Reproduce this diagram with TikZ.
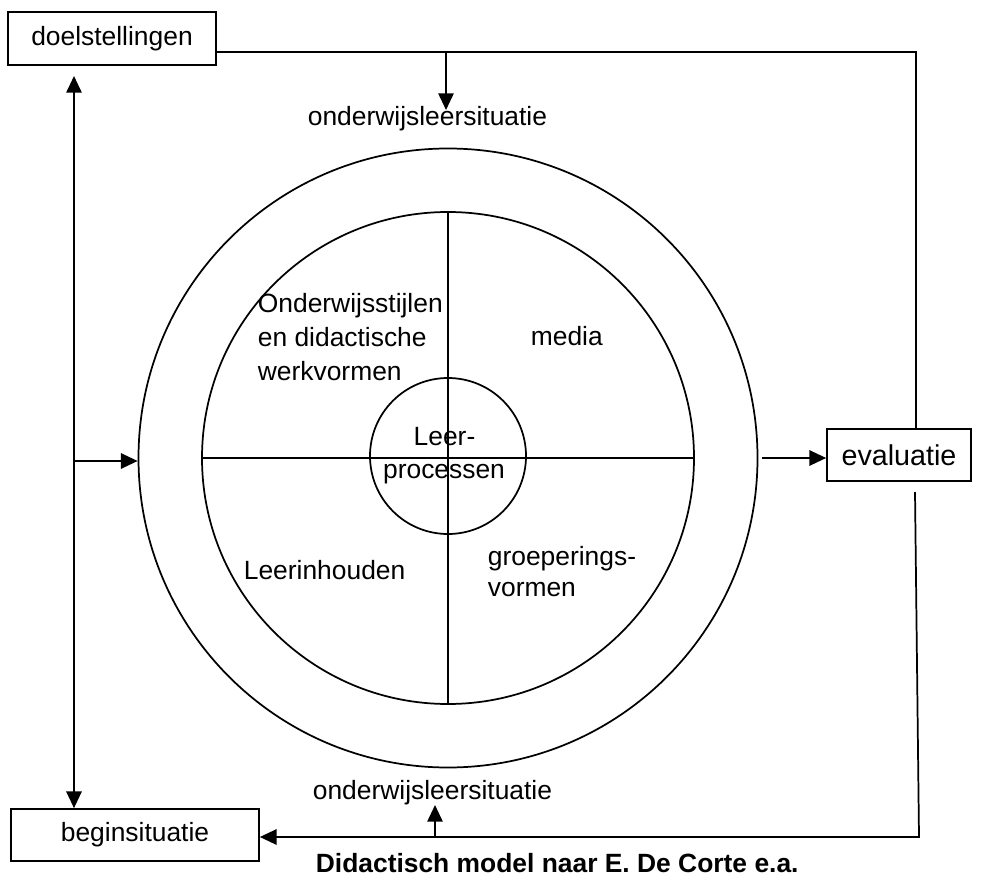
\documentclass[tikz,border=0pt]{standalone}
\usepackage{fontspec}
\setmainfont{Liberation Sans}
\usetikzlibrary{arrows.meta,calc}
\begin{document}
\begin{tikzpicture}[x=0.75pt,y=-0.75pt,
  line width=1.3pt,
  every node/.style={font=\fontsize{19.8pt}{23pt}\selectfont},
  txt/.style={inner sep=0pt,anchor=base west},
  ctxt/.style={inner sep=0pt,anchor=base},
  box/.style={draw,rectangle,inner sep=0pt},
  ring/.style={draw,circle,inner sep=0pt},
  arr/.style={-{Triangle[length=12.5pt,width=11.5pt]}},
  arrboth/.style={{Triangle[length=12.5pt,width=11.5pt]}-{Triangle[length=12.5pt,width=11.5pt]}}]
\useasboundingbox (0,0) rectangle (988,877);

% boxes
\node[box,minimum width=156pt,minimum height=39.75pt] (doel) at (112,38.5) {doelstellingen};
\node[box,minimum width=108pt,minimum height=39pt,font=\fontsize{21.5pt}{25pt}\selectfont] (eval) at (899,455) {evaluatie};
\node[box,minimum width=186pt,minimum height=39pt] (begin) at (135,835) {beginsituatie};

% circles
\node[ring,minimum size=464.25pt] (outer) at (448,458) {};
\node[ring,minimum size=369pt] (inner) at (448,458) {};
\draw (inner.north) -- (inner.south);
\draw (inner.west) -- (inner.east);
\node[ring,minimum size=117pt] (core) at (448,456) {};

% texts
\node[txt] (toplab) at (307,126) {onderwijsleersituatie};
\node[txt] (botlab) at (312,799) {onderwijsleersituatie};
\node[txt,font=\fontsize{19.8pt}{23pt}\selectfont\bfseries] (caption) at (315,872) {Didactisch model naar E. De Corte e.a.};
\node[txt] (ow1) at (257,312) {Onderwijsstijlen};
\node[txt] (ow2) at (257,346.5) {en didactische};
\node[txt] (ow3) at (257,380) {werkvormen};
\node[txt] (media) at (530,345) {media};
\node[ctxt] (lp1) at (444.5,445) {Leer-};
\node[ctxt] (lp2) at (444,478) {processen};
\node[txt] (inh) at (243,579) {Leerinhouden};
\node[txt] (gr1) at (487,565) {groeperings-};
\node[txt] (gr2) at (487,596) {vormen};

% coordinates
\coordinate (tr) at (916,52);
\coordinate (t1) at (446,52);
\coordinate (t1end) at (446,110);
\coordinate (lt) at (74,76);
\coordinate (la) at (74,461);
\coordinate (ra) at (762,458);
\coordinate (br1) at (915,492);
\coordinate (br2) at (919,837);
\coordinate (ua) at (435,837);
\coordinate (ub) at (435,805);

% connectors
\draw (doel.east |- tr) -- (tr) -- (tr |- eval.north);
\draw[arr] (t1) -- (t1end);
\draw[arrboth] (lt) -- (lt |- begin.north);
\draw[arr] (la) -- (la -| outer.west);
\draw[arr] (ra) -- (ra -| eval.west);
\draw[arr] (br1) -- (br2) -- (br2 -| begin.east);
\draw[arr] (ua) -- (ub);
\end{tikzpicture}
\end{document}
